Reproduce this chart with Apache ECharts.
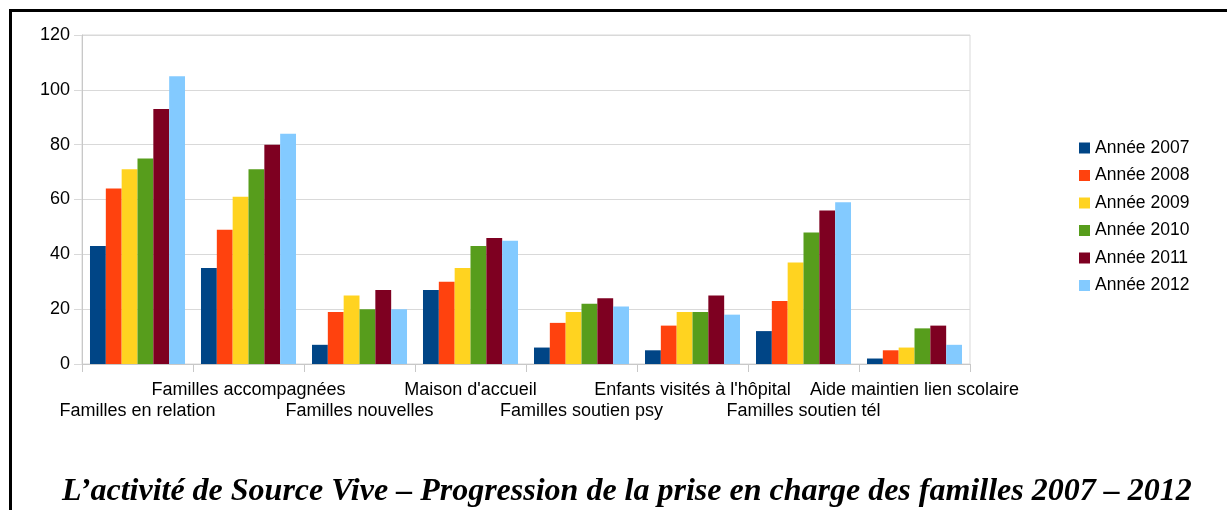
<!DOCTYPE html>
<html>
<head>
<meta charset="utf-8">
<script src="https://cdn.jsdelivr.net/npm/echarts@6/dist/echarts.min.js"></script>
<style>
  html, body { margin: 0; padding: 0; background: #fff; }
  #chart { width: 1227px; height: 510px; }
</style>
</head>
<body>
<div id="chart"></div>
<script>
// catégories et valeurs
const categories = [
  'Familles en relation',
  'Familles accompagnées',
  'Familles nouvelles',
  "Maison d'accueil",
  'Familles soutien psy',
  "Enfants visités à l'hôpital",
  'Familles soutien tél',
  'Aide maintien lien scolaire'
]
const years = ['Année 2007', 'Année 2008', 'Année 2009', 'Année 2010', 'Année 2011', 'Année 2012']
const colors = ['#004586', '#ff420e', '#ffd320', '#579d1c', '#7e0021', '#83caff']

const y2007 = [43, 35, 7, 27, 6, 5, 12, 2]
const y2008 = [64, 49, 19, 30, 15, 14, 23, 5]
const y2009 = [71, 61, 25, 35, 19, 19, 37, 6]
const y2010 = [75, 71, 20, 43, 22, 19, 48, 13]
const y2011 = [93, 80, 27, 46, 24, 25, 56, 14]
const y2012 = [105, 84, 20, 45, 21, 18, 59, 7]
const values = [y2007, y2008, y2009, y2010, y2011, y2012]

const yTicks = [0, 20, 40, 60, 80, 100, 120]

const titleText = 'L\u2019activité de Source Vive \u2013 Progression de la prise en charge des familles 2007 \u2013 2012'

const sans = '"Liberation Sans", Arial, sans-serif'

const myChart = echarts.init(document.getElementById('chart'), null, { renderer: 'canvas' })

const option = {
  animation: false,
  backgroundColor: '#fff',
  color: colors,
  title: {
    text: titleText,
    left: 57,
    top: 471,
    textStyle: {
      fontFamily: '"Liberation Serif", "Times New Roman", serif',
      fontStyle: 'italic',
      fontWeight: 'bold',
      fontSize: 32,
      color: '#000'
    }
  },
  legend: {
    orient: 'vertical',
    left: 1074,
    top: 134,
    icon: 'rect',
    itemWidth: 11,
    itemHeight: 11,
    itemGap: 9.5,
    data: years,
    textStyle: {
      fontFamily: sans,
      fontSize: 17.5,
      lineHeight: 18,
      color: '#000'
    }
  },
  grid: {
    left: 82,
    right: 257,
    top: 35,
    bottom: 146,
    show: true,
    borderColor: '#d9d9d9',
    borderWidth: 1
  },
  xAxis: {
    type: 'category',
    data: categories,
    axisLine: { lineStyle: { color: '#c8c8c8', width: 1 } },
    axisTick: { show: true, length: 8, lineStyle: { color: '#c8c8c8' } },
    axisLabel: {
      interval: 0,
      margin: 15,
      fontFamily: sans,
      fontSize: 18,
      lineHeight: 21.5,
      color: '#000',
      // étiquettes en quinconce sur deux lignes
      formatter: (value, index) => (index % 2 ? value + '\n ' : ' \n' + value)
    }
  },
  yAxis: {
    type: 'value',
    min: yTicks[0],
    max: yTicks[yTicks.length - 1],
    interval: yTicks[1] - yTicks[0],
    axisLine: { show: true, lineStyle: { color: '#c8c8c8' } },
    axisTick: { show: true, length: 8, lineStyle: { color: '#d9d9d9' } },
    splitLine: { lineStyle: { color: '#d9d9d9' } },
    axisLabel: {
      margin: 12,
      fontFamily: sans,
      fontSize: 18,
      color: '#000'
    }
  },
  series: years.map((name, i) => ({
    name,
    type: 'bar',
    data: values[i],
    barGap: '0%',
    barCategoryGap: '14.4%',
    itemStyle: { color: colors[i] }
  })),
  graphic: [
    {
      type: 'rect',
      silent: true,
      shape: { x: 10.5, y: 10.5, width: 1400, height: 700 },
      style: { fill: null, stroke: '#000', lineWidth: 3 },
      z: 100
    }
  ]
}

option && myChart.setOption(option)
</script>
</body>
</html>
